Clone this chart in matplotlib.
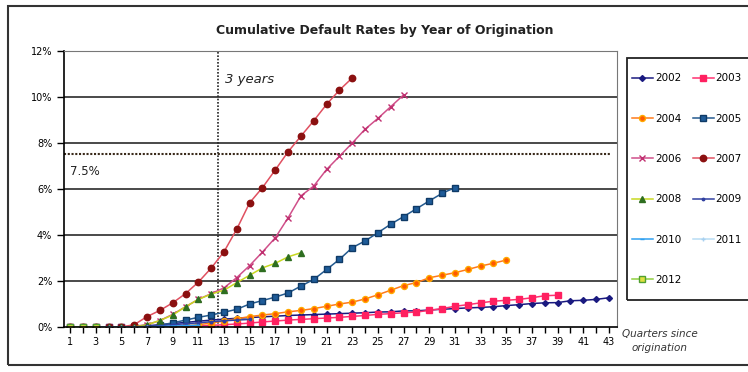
import numpy as np
import matplotlib
matplotlib.use('Agg')
from matplotlib import pyplot as plt
from matplotlib.patches import Rectangle

# cumulative default rate (%) by quarter since origination, starting at quarter 1
d2002 = [0, 0, 0, 0, 0, 0.02, 0.05, 0.1, 0.15, 0.2, 0.25, 0.3, 0.34, 0.38, 0.41, 0.44, 0.47, 0.5,
         0.52, 0.54, 0.56, 0.58, 0.6, 0.62, 0.65, 0.66, 0.7, 0.7, 0.74, 0.77, 0.8, 0.83, 0.85, 0.88,
         0.93, 0.97, 1.02, 1.05, 1.06, 1.14, 1.16, 1.2, 1.27]
d2003 = [0, 0, 0, 0, 0, 0, 0, 0, 0, 0.02, 0.04, 0.07, 0.1, 0.13, 0.17, 0.22, 0.26, 0.3, 0.33,
         0.36, 0.39, 0.42, 0.46, 0.5, 0.55, 0.58, 0.62, 0.65, 0.72, 0.8, 0.9, 0.97, 1.05, 1.12,
         1.16, 1.2, 1.27, 1.36, 1.38]
d2004 = [0, 0, 0, 0, 0, 0, 0, 0, 0.02, 0.05, 0.1, 0.17, 0.26, 0.36, 0.45, 0.52, 0.58, 0.66, 0.72,
         0.8, 0.9, 1.0, 1.08, 1.22, 1.4, 1.6, 1.8, 1.93, 2.14, 2.25, 2.36, 2.5, 2.65, 2.77, 2.91]
d2005 = [0, 0, 0, 0, 0, 0, 0.02, 0.08, 0.18, 0.3, 0.42, 0.52, 0.64, 0.77, 1.0, 1.15, 1.3, 1.48,
         1.78, 2.07, 2.5, 2.94, 3.45, 3.74, 4.1, 4.47, 4.8, 5.14, 5.48, 5.81, 6.06]
d2006 = [0, 0, 0, 0, 0, 0.03, 0.1, 0.28, 0.55, 0.88, 1.2, 1.45, 1.7, 2.15, 2.67, 3.26, 3.88, 4.75,
         5.7, 6.13, 6.85, 7.42, 8.0, 8.6, 9.07, 9.58, 10.09]
d2007 = [0, 0, 0, 0, 0, 0.1, 0.45, 0.72, 1.05, 1.45, 1.95, 2.56, 3.27, 4.26, 5.4, 6.06, 6.83, 7.62,
         8.3, 8.97, 9.68, 10.3, 10.83]
d2008 = [0, 0, 0, 0, 0, 0, 0.1, 0.28, 0.52, 0.88, 1.2, 1.43, 1.6, 1.93, 2.25, 2.57, 2.77, 3.05, 3.23]
d2009 = [0, 0, 0, 0, 0, 0, 0.03, 0.06, 0.1, 0.14, 0.18, 0.23, 0.27, 0.3, 0.33]
d2010 = [0, 0, 0, 0, 0, 0, 0, 0.02, 0.04, 0.06, 0.08]
d2011 = [0, 0, 0, 0, 0, 0, 0]
d2012 = [0, 0, 0]

years = ['2002', '2003', '2004', '2005', '2006', '2007', '2008', '2009', '2010', '2011', '2012']
series = [d2002, d2003, d2004, d2005, d2006, d2007, d2008, d2009, d2010, d2011, d2012]

# line colour, marker, marker face, marker edge, marker size
styles = [
    ('#1a1a80', 'D', '#1a1a80', '#1a1a80', 3.0),
    ('#ff3070', 's', '#ff2060', '#ff2060', 4.0),
    ('#ff7a1a', 'o', '#ff5a00', '#ffaa00', 4.3),
    ('#245a8f', 's', '#1f5c99', '#0f3a66', 4.6),
    ('#d0508a', 'x', '#c03070', '#c03070', 4.2),
    ('#e05060', 'o', '#8b1010', '#8b1010', 4.6),
    ('#c8d820', '^', '#2e6e20', '#2e6e20', 4.3),
    ('#3040a0', '.', '#3040a0', '#3040a0', 3.5),
    ('#30a0f0', '_', '#30a0f0', '#30a0f0', 3.5),
    ('#b8dcf4', '+', '#a8d0f0', '#a8d0f0', 3.5),
    ('#90d040', 's', '#e0e040', '#50a030', 4.3),
]

fig = plt.figure(figsize=(7.48, 3.72), dpi=100)
ax = fig.add_axes([0.0856, 0.121, 0.739, 0.742])

handles = []
for name, vals, st in zip(years, series, styles):
    q = np.arange(1, len(vals) + 1)
    h, = ax.plot(q, vals, color=st[0], lw=1.1, marker=st[1], markerfacecolor=st[2],
                 markeredgecolor=st[3], markersize=st[4], markeredgewidth=1.0, label=name)
    handles.append(h)

ax.set_xlim(0.53, 43.62)
ax.set_ylim(0, 12)
ax.set_yticks(range(0, 13, 2))
ax.set_yticklabels([f'{v}%' for v in range(0, 13, 2)])
ax.set_xticks(range(1, 44, 2))
ax.set_xticks(range(1, 44), minor=True)
ax.tick_params(axis='both', labelsize=7, length=4, width=1, direction='out')
ax.tick_params(axis='x', which='minor', length=4, width=1)
ax.tick_params(axis='y', length=5)
for y in range(2, 12, 2):
    ax.axhline(y, color='#2a2a2a', lw=1.2, zorder=0)
for s in ['top', 'right']:
    ax.spines[s].set_color('#777777')
ax.spines['left'].set_linewidth(1.2)
ax.spines['bottom'].set_linewidth(1.2)

ax.axvline(12.5, color='#222222', lw=1.2, ls=(0, (1, 1)), zorder=1)
ax.axhline(7.5, xmin=0, xmax=0.99, color='#3a2a1a', lw=1.5, ls=(0, (1, 0.8)), zorder=1)
ax.text(13.1, 10.6, '3 years', fontsize=9.5, style='italic', color='#222222')
ax.text(1.0, 7.05, '7.5%', fontsize=8.5, color='#222222', va='top')

fig.text(0.515, 0.918, 'Cumulative Default Rates by Year of Origination', ha='center',
         va='center', fontsize=9, fontweight='bold', color='#222222')
fig.text(0.882, 0.083, 'Quarters since\norigination', ha='center', va='center',
         fontsize=7.5, style='italic', color='#333333', linespacing=1.5)

# legend is filled row by row in the reference; its box is drawn separately
order = [0, 2, 4, 6, 8, 10, 1, 3, 5, 7, 9]
leg = fig.legend([handles[i] for i in order], [years[i] for i in order],
                 loc='upper left', bbox_to_anchor=(0.845, 0.803), ncol=2, fontsize=7.5,
                 frameon=False, labelspacing=2.91, handlelength=2.0, handletextpad=0.2,
                 columnspacing=1.1, borderpad=0, borderaxespad=0)
fig.patches.append(Rectangle((0.838, 0.194), 0.3, 0.65, transform=fig.transFigure,
                             fill=False, edgecolor='#222222', lw=1.3))

# outer chart border
fig.patches.append(Rectangle((0.011, 0.018), 1.2, 0.965, transform=fig.transFigure,
                             fill=False, edgecolor='#333333', lw=1.5))

fig.savefig('out.png', dpi=100)
